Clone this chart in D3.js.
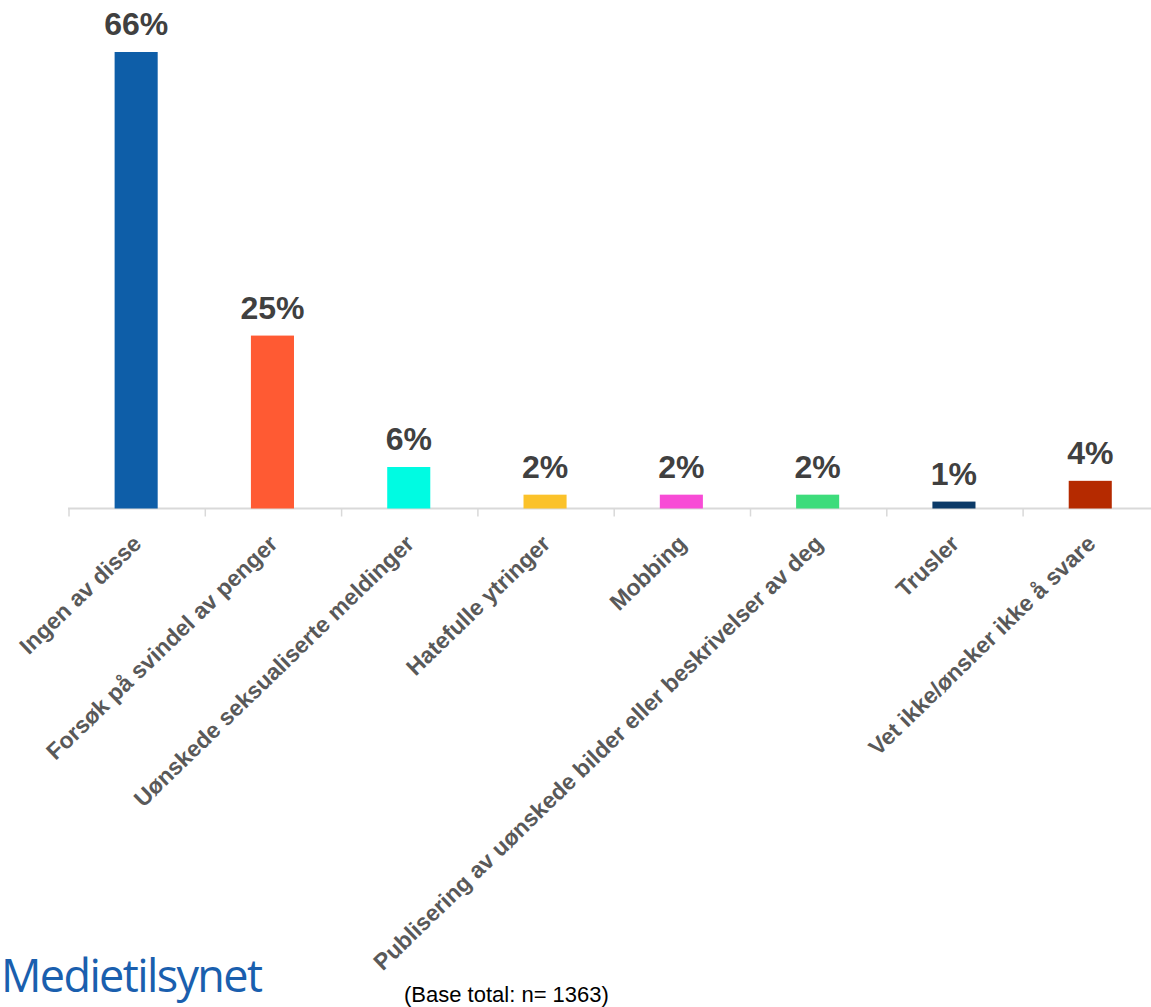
<!DOCTYPE html>
<html>
<head>
<meta charset="utf-8">
<script src="https://cdn.jsdelivr.net/npm/d3@7"></script>
<style>
  html, body { margin: 0; padding: 0; background: #fff; }
  svg { display: block; }
</style>
</head>
<body>
<svg id="chart" width="1151" height="1007"></svg>
<script>
// Share of respondents who experienced each type of incident
const categories = [
  "Ingen av disse",
  "Forsøk på svindel av penger",
  "Uønskede seksualiserte meldinger",
  "Hatefulle ytringer",
  "Mobbing",
  "Publisering av uønskede bilder eller beskrivelser av deg",
  "Trusler",
  "Vet ikke/ønsker ikke å svare"
];
const values = [66, 25, 6, 2, 2, 2, 1, 4];
const colors = ["#0e5ea8", "#ff5a33", "#00fbe2", "#fbc22a", "#f84bd6", "#3ddc7b", "#0b3a68", "#b52a00"];
const baseNote = "(Base total: n= 1363)";
const brand = "Medietilsynet";

const svg = d3.select("#chart");

const left = 68, bandW = 136.3;
const x = d3.scaleBand()
  .domain(categories)
  .range([left, left + bandW * categories.length])
  .paddingInner(0.684)
  .paddingOuter(0.342);

const baseY = 508.5;
const y = d3.scaleLinear().domain([0, 66]).range([baseY, 52]);

// axis baseline with category ticks at band edges
svg.append("line")
  .attr("x1", left).attr("x2", 1151)
  .attr("y1", baseY).attr("y2", baseY)
  .attr("stroke", "#d9d9d9").attr("stroke-width", 2);

svg.selectAll("line.tick")
  .data(d3.range(categories.length + 1))
  .join("line")
  .attr("class", "tick")
  .attr("x1", i => left + 1 + i * bandW).attr("x2", i => left + 1 + i * bandW)
  .attr("y1", baseY).attr("y2", baseY + 8)
  .attr("stroke", "#d9d9d9").attr("stroke-width", 1.5);

// bars
svg.selectAll("rect.bar")
  .data(categories)
  .join("rect")
  .attr("class", "bar")
  .attr("x", d => x(d))
  .attr("width", x.bandwidth())
  .attr("y", (d, i) => y(values[i]))
  .attr("height", (d, i) => baseY - y(values[i]))
  .attr("fill", (d, i) => colors[i]);

// value labels
svg.selectAll("text.val")
  .data(categories)
  .join("text")
  .attr("class", "val")
  .attr("x", d => x(d) + x.bandwidth() / 2)
  .attr("y", (d, i) => y(values[i]) - 17)
  .attr("text-anchor", "middle")
  .attr("font-family", "Liberation Sans, Arial, sans-serif")
  .attr("font-weight", "bold")
  .attr("font-size", 32)
  .attr("fill", "#404040")
  .text((d, i) => values[i] + "%");

// rotated category labels
svg.selectAll("text.cat")
  .data(categories)
  .join("text")
  .attr("class", "cat")
  .attr("transform", d => `translate(${x(d) + x.bandwidth() / 2 + 1},${baseY + 31}) rotate(-44)`)
  .attr("text-anchor", "end")
  .attr("dy", "0.35em")
  .attr("font-family", "Liberation Sans, Arial, sans-serif")
  .attr("font-weight", "bold")
  .attr("font-size", 23)
  .attr("fill", "#595959")
  .text(d => d);

// base note
svg.append("text")
  .attr("x", 404).attr("y", 1002)
  .attr("font-family", "Liberation Sans, Arial, sans-serif")
  .attr("font-size", 22)
  .attr("fill", "#000")
  .text(baseNote);

// brand mark
svg.append("text")
  .attr("x", 1).attr("y", 992)
  .attr("font-family", "Open Sans, sans-serif")
  .attr("font-size", 45)
  .attr("fill", "#1a5fae")
  .attr("textLength", 262)
  .text(brand);
</script>
</body>
</html>
